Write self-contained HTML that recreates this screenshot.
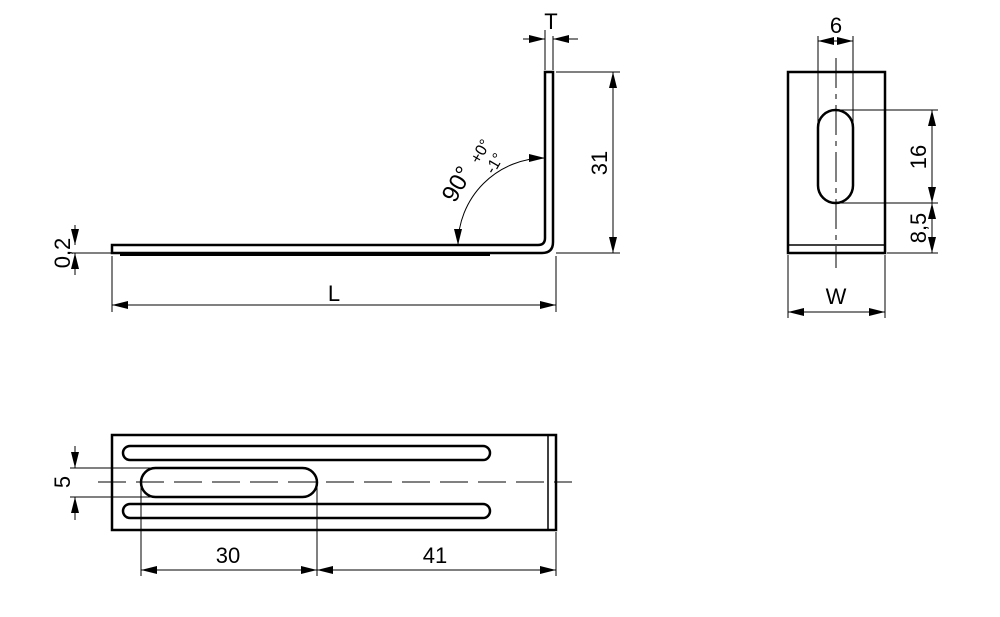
<!DOCTYPE html><html><head><style>body{margin:0;background:#fff}svg{display:block}text{font-family:"Liberation Sans",Arial,sans-serif;font-size:22px;fill:#000}</style></head><body>
<svg width="1000" height="617" viewBox="0 0 1000 617" xmlns="http://www.w3.org/2000/svg">
<defs><marker id="a" viewBox="0 0 16 8" refX="16" refY="4" markerWidth="16" markerHeight="8" orient="auto-start-reverse" markerUnits="userSpaceOnUse"><path d="M0,0L16,4L0,8Z" fill="#000"/></marker></defs>
<g fill="none" stroke="#000">
<path d="M112,245 H538 Q545,245 545,238 V72 H553 V242 Q553,253 542,253 H112 Z" stroke-width="2.5"/>
<line x1="120" y1="254.5" x2="490" y2="254.5" stroke-width="3"/>
<g stroke-width="1">
<line x1="545" y1="30" x2="545" y2="70"/><line x1="553" y1="36" x2="553" y2="70"/>
<line x1="523" y1="39" x2="545" y2="39" marker-end="url(#a)"/><line x1="578" y1="39" x2="553" y2="39" marker-end="url(#a)"/>
<line x1="556" y1="72" x2="620" y2="72"/><line x1="556" y1="253" x2="620" y2="253"/>
<line x1="613" y1="72" x2="613" y2="253" marker-start="url(#a)" marker-end="url(#a)"/>
<path d="M545,158 A87,87 0 0 0 458,245" marker-start="url(#a)" marker-end="url(#a)"/>
<line x1="70" y1="253" x2="112" y2="253"/>
<line x1="75" y1="225" x2="75" y2="245" marker-end="url(#a)"/><line x1="75" y1="275" x2="75" y2="253" marker-end="url(#a)"/>
<line x1="112" y1="256" x2="112" y2="312"/><line x1="556" y1="256" x2="556" y2="312"/>
<line x1="112" y1="305" x2="556" y2="305" marker-start="url(#a)" marker-end="url(#a)"/>
</g>
<rect x="788" y="72" width="97" height="181" stroke-width="2.5"/>
<line x1="788" y1="245" x2="885" y2="245" stroke-width="1.5"/>
<path d="M818,127.5 A17.5,17.5 0 0 1 853,127.5 V185.5 A17.5,17.5 0 0 1 818,185.5 Z" stroke-width="2.5"/>
<g stroke-width="1">
<line x1="836" y1="58" x2="836" y2="268" stroke-dasharray="30,6,5,6"/>
<line x1="818" y1="36" x2="818" y2="127"/><line x1="853" y1="36" x2="853" y2="127"/>
<line x1="818" y1="41" x2="853" y2="41" marker-start="url(#a)" marker-end="url(#a)"/>
<line x1="836" y1="110" x2="938" y2="110"/><line x1="836" y1="203" x2="938" y2="203"/><line x1="887" y1="253" x2="938" y2="253"/>
<line x1="932" y1="110" x2="932" y2="203" marker-start="url(#a)" marker-end="url(#a)"/>
<line x1="932" y1="203" x2="932" y2="253" marker-start="url(#a)" marker-end="url(#a)"/>
<line x1="788" y1="255" x2="788" y2="318"/><line x1="885" y1="255" x2="885" y2="318"/>
<line x1="788" y1="312" x2="885" y2="312" marker-start="url(#a)" marker-end="url(#a)"/>
</g>
<rect x="112" y="435" width="444" height="95" stroke-width="2.5"/>
<line x1="548" y1="435" x2="548" y2="530" stroke-width="1.5"/>
<path d="M130,446 H483 A7,7 0 0 1 483,460 H130 A7,7 0 0 1 130,446 Z" stroke-width="2.5"/>
<path d="M130,504 H483 A7,7 0 0 1 483,518 H130 A7,7 0 0 1 130,504 Z" stroke-width="2.5"/>
<path d="M155.5,468 H302.5 A14.5,14.5 0 0 1 302.5,497 H155.5 A14.5,14.5 0 0 1 155.5,468 Z" stroke-width="2.5"/>
<g stroke-width="1">
<line x1="98" y1="482" x2="572" y2="482" stroke-dasharray="28,10"/>
<line x1="70" y1="468" x2="155" y2="468"/><line x1="70" y1="497" x2="155" y2="497"/>
<line x1="75" y1="446" x2="75" y2="468" marker-end="url(#a)"/><line x1="75" y1="520" x2="75" y2="497" marker-end="url(#a)"/>
<line x1="141" y1="482" x2="141" y2="576"/><line x1="317" y1="482" x2="317" y2="576"/><line x1="556" y1="532" x2="556" y2="576"/>
<line x1="141" y1="570" x2="317" y2="570" marker-start="url(#a)" marker-end="url(#a)"/>
<line x1="317" y1="570" x2="556" y2="570" marker-start="url(#a)" marker-end="url(#a)"/>
</g>
</g>
<text x="551" y="29" text-anchor="middle">T</text>
<text transform="translate(607,163) rotate(-90)" text-anchor="middle">31</text>
<text transform="translate(464,188) rotate(-60)" text-anchor="middle" style="font-size:24px">90°</text>
<text transform="translate(485,154) rotate(-60)" text-anchor="middle" style="font-size:16px">+0°</text>
<text transform="translate(499,166) rotate(-60)" text-anchor="middle" style="font-size:16px">-1°</text>
<text transform="translate(70,253) rotate(-90)" text-anchor="middle">0,2</text>
<text x="334" y="301" text-anchor="middle">L</text>
<text x="836" y="33" text-anchor="middle">6</text>
<text transform="translate(926,157) rotate(-90)" text-anchor="middle">16</text>
<text transform="translate(926,228) rotate(-90)" text-anchor="middle">8,5</text>
<text x="836" y="304" text-anchor="middle">W</text>
<text transform="translate(70,482) rotate(-90)" text-anchor="middle">5</text>
<text x="228" y="563" text-anchor="middle">30</text>
<text x="435" y="563" text-anchor="middle">41</text>
</svg></body></html>
